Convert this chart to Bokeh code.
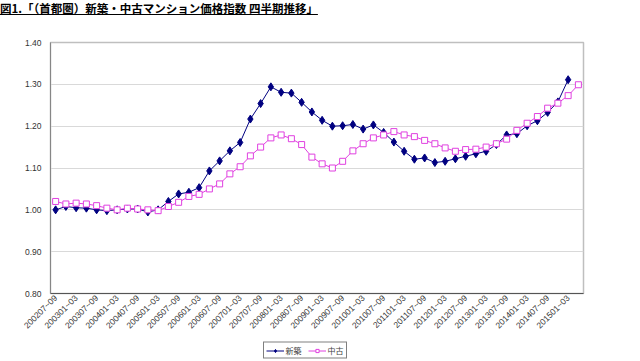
import math
from bokeh.plotting import figure
from bokeh.models import Div, Legend, LegendItem, FixedTicker, Range1d, NumeralTickFormatter
from bokeh.layouts import column
from bokeh.embed import file_html
from bokeh.resources import INLINE

# quarterly categories 2002/07-09 .. 2015/04-06
quarters = []
for yr in range(2002, 2016):
    for q in ["01~03", "04~06", "07~09", "10~12"]:
        quarters.append(f"{yr}{q}")
quarters = quarters[2:54]

new_vals = [1.000, 1.008, 1.005, 1.004, 1.000, 0.998, 1.000, 1.002, 1.002, 0.995,
            1.000, 1.020, 1.038, 1.042, 1.053, 1.093, 1.117, 1.141, 1.161, 1.217,
            1.254, 1.294, 1.281, 1.279, 1.257, 1.234, 1.214, 1.200, 1.201, 1.204,
            1.193, 1.203, 1.185, 1.162, 1.140, 1.121, 1.124, 1.113, 1.116, 1.122,
            1.128, 1.134, 1.140, 1.156, 1.179, 1.182, 1.201, 1.213, 1.233, 1.258,
            1.311]

used_vals = [1.020, 1.014, 1.016, 1.014, 1.010, 1.004, 1.000, 1.004, 1.002, 1.000,
             0.998, 1.008, 1.018, 1.032, 1.037, 1.050, 1.062, 1.086, 1.103, 1.129,
             1.150, 1.172, 1.179, 1.170, 1.156, 1.126, 1.110, 1.100, 1.116, 1.141,
             1.158, 1.172, 1.179, 1.187, 1.179, 1.175, 1.166, 1.158, 1.148, 1.140,
             1.144, 1.145, 1.150, 1.158, 1.169, 1.190, 1.207, 1.223, 1.243, 1.255,
             1.273, 1.299]

y_ticks = [0.80, 0.90, 1.00, 1.10, 1.20, 1.30, 1.40]
series_names = ["新築", "中古"]
title_text = "図1.「（首都圏）新築・中古マンション価格指数 四半期推移」"

NUM_FONT = "Liberation Sans"
JP_FONT = "Noto Sans CJK JP"
NAVY = "#000080"
PINK = "#E040E0"
NAN = float("nan")

title = Div(text=f"<u>{title_text}</u>", width=624, height=18, margin=0,
            styles={"font-family": JP_FONT, "font-weight": "bold", "font-size": "11.5px",
                    "color": "#000", "white-space": "nowrap"})

p = figure(width=624, height=321, output_backend="svg", toolbar_location=None,
           x_range=Range1d(-0.5, len(quarters) - 0.5), y_range=Range1d(0.8, 1.4),
           min_border_left=50, min_border_right=41, min_border_top=24, min_border_bottom=46,
           margin=0)

p.background_fill_color = "white"
p.border_fill_color = "white"
p.outline_line_color = "#bfbfbf"
p.outline_line_width = 1.5

p.xgrid.visible = False
p.ygrid.grid_line_color = "#d9d9d9"
p.ygrid.grid_line_width = 1

p.yaxis.ticker = FixedTicker(ticks=y_ticks)
p.yaxis.formatter = NumeralTickFormatter(format="0.00")
p.yaxis.major_label_text_font = NUM_FONT
p.yaxis.major_label_text_font_size = "8.5px"
p.yaxis.major_label_text_color = "#333333"
p.yaxis.axis_line_color = "#868686"
p.yaxis.major_tick_out = 0
p.yaxis.major_tick_in = 0
p.yaxis.minor_tick_out = 0
p.yaxis.minor_tick_in = 0
p.yaxis.major_label_standoff = 9

p.xaxis.ticker = FixedTicker(ticks=list(range(0, len(quarters), 2)))
p.xaxis.major_label_overrides = {i: quarters[i] for i in range(0, len(quarters), 2)}
p.xaxis.major_label_orientation = math.pi / 4
p.xaxis.major_label_text_font = NUM_FONT
p.xaxis.major_label_text_font_size = "8.5px"
p.xaxis.major_label_text_color = "#333333"
p.xaxis.axis_line_color = "#555555"
p.xaxis.major_tick_out = 0
p.xaxis.major_tick_in = 0
p.xaxis.minor_tick_out = 0
p.xaxis.minor_tick_in = 0
p.xaxis.major_label_standoff = 3

xn = list(range(len(new_vals)))
xu = list(range(len(used_vals)))

p.line(xn, new_vals, line_color=NAVY, line_width=1)
p.scatter(xn, new_vals, marker="diamond", size=8, fill_color=NAVY, line_color=NAVY)
p.line(xu, used_vals, line_color=PINK, line_width=1)
p.scatter(xu, used_vals, marker="square", size=6, fill_color="white", line_color=PINK, line_width=1)

# legend strip below the chart (legend-only renderers carry no visible data)
lf = figure(width=600, height=22, output_backend="svg", toolbar_location=None,
            x_range=Range1d(0, 1), y_range=Range1d(0, 1), x_axis_type=None, y_axis_type=None,
            min_border=0, margin=0)
lf.outline_line_color = None
lf.xgrid.visible = False
lf.ygrid.visible = False
ll1 = lf.line([NAN], [NAN], line_color=NAVY, line_width=1)
ls1 = lf.scatter([NAN], [NAN], marker="diamond", size=7, fill_color=NAVY, line_color=NAVY)
ll2 = lf.line([NAN], [NAN], line_color=PINK, line_width=1)
ls2 = lf.scatter([NAN], [NAN], marker="square", size=6, fill_color="white", line_color=PINK)

legend = Legend(items=[LegendItem(label=series_names[0], renderers=[ll1, ls1]),
                       LegendItem(label=series_names[1], renderers=[ll2, ls2])],
                orientation="horizontal", location="center",
                border_line_color="black", border_line_width=1,
                label_text_font=JP_FONT, label_text_font_size="8px",
                glyph_width=18, glyph_height=8, padding=2, spacing=6,
                label_standoff=2, label_height=8, label_width=14, margin=0)
lf.add_layout(legend)

layout = column(title, p, lf, spacing=0, margin=0)
open("out.html", "w").write(file_html(layout, INLINE))
